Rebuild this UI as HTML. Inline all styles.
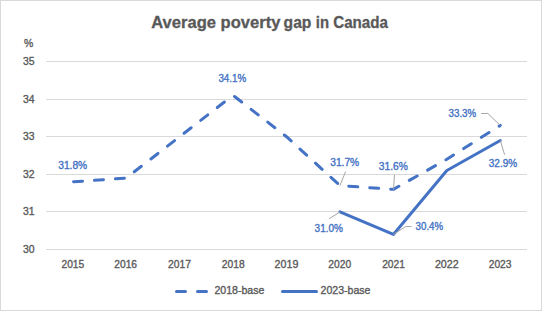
<!DOCTYPE html>
<html><head><meta charset="utf-8"><style>
html,body{margin:0;padding:0;background:#fff;}
body{width:542px;height:311px;overflow:hidden;font-family:"Liberation Sans",sans-serif;}
svg{display:block;}
</style></head><body>
<svg width="542" height="311" viewBox="0 0 542 311">
<rect x="0" y="0" width="542" height="311" fill="#fff"/>
<rect x="0.5" y="0.5" width="541" height="310" fill="none" stroke="#d9d9d9" stroke-width="1"/>
<rect x="46" y="61" width="481" height="1" fill="#d9d9d9"/>
<rect x="46" y="99" width="481" height="1" fill="#d9d9d9"/>
<rect x="46" y="136" width="481" height="1" fill="#d9d9d9"/>
<rect x="46" y="174" width="481" height="1" fill="#d9d9d9"/>
<rect x="46" y="211" width="481" height="1" fill="#d9d9d9"/>
<rect x="46" y="249" width="481" height="1" fill="#d9d9d9"/>
<polyline points="72.72,181.82 126.17,178.06 179.61,136.70 233.06,95.34" fill="none" stroke="#4472C4" stroke-width="3" stroke-linecap="round" stroke-linejoin="round" stroke-dasharray="9 12" stroke-dashoffset="-0.8"/>
<polyline points="233.06,95.34 286.50,136.70 339.94,185.58 393.39,189.34 446.83,159.26 500.28,125.42" fill="none" stroke="#4472C4" stroke-width="3" stroke-linecap="round" stroke-linejoin="round" stroke-dasharray="9 12" stroke-dashoffset="19.14"/>
<polyline points="339.94,211.90 393.39,234.46 446.83,170.54 500.28,140.46" fill="none" stroke="#4472C4" stroke-width="3" stroke-linecap="round" stroke-linejoin="round"/>
<polyline points="345.7,171.5 339.9,185.6" fill="none" stroke="#a6a6a6" stroke-width="1"/>
<polyline points="394.5,174.5 393.5,189.3" fill="none" stroke="#a6a6a6" stroke-width="1"/>
<polyline points="481.1,113.5 487.8,113.5 500.3,125.4" fill="none" stroke="#a6a6a6" stroke-width="1"/>
<polyline points="329.1,218.8 340.0,211.9" fill="none" stroke="#a6a6a6" stroke-width="1"/>
<polyline points="411.5,226.5 405.7,226.5 393.4,234.5" fill="none" stroke="#a6a6a6" stroke-width="1"/>
<polyline points="500.3,140.5 504.6,154.7" fill="none" stroke="#a6a6a6" stroke-width="1"/>
<line x1="176.5" y1="291.5" x2="208" y2="291.5" stroke="#4472C4" stroke-width="3" stroke-linecap="round" stroke-dasharray="9 12"/>
<line x1="282.5" y1="291.5" x2="316.5" y2="291.5" stroke="#4472C4" stroke-width="3" stroke-linecap="round"/>
<text id="t1" x="151.20" y="27.9" font-family="Liberation Sans" font-weight="bold" font-size="16.3" fill="#595959" stroke="#595959" stroke-width="0.3" textLength="64.80" lengthAdjust="spacingAndGlyphs">Average</text>
<text id="t2" x="220.60" y="27.9" font-family="Liberation Sans" font-weight="bold" font-size="16.3" fill="#595959" stroke="#595959" stroke-width="0.3" textLength="59.81" lengthAdjust="spacingAndGlyphs">poverty</text>
<text id="t3" x="283.60" y="27.9" font-family="Liberation Sans" font-weight="bold" font-size="16.3" fill="#595959" stroke="#595959" stroke-width="0.3" textLength="27.81" lengthAdjust="spacingAndGlyphs">gap</text>
<text id="t4" x="315.76" y="27.9" font-family="Liberation Sans" font-weight="bold" font-size="16.3" fill="#595959" stroke="#595959" stroke-width="0.3" textLength="13.24" lengthAdjust="spacingAndGlyphs">in</text>
<text id="t5" x="333.18" y="27.9" font-family="Liberation Sans" font-weight="bold" font-size="16.3" fill="#595959" stroke="#595959" stroke-width="0.3" textLength="54.86" lengthAdjust="spacingAndGlyphs">Canada</text>
<text id="pct" x="24.00" y="47.2" font-family="Liberation Sans" font-size="11.3" fill="#595959" stroke="#595959" stroke-width="0.35" textLength="9.24" lengthAdjust="spacingAndGlyphs">%</text>
<text id="y35" x="23.00" y="64.8" font-family="Liberation Sans" font-size="11.3" fill="#595959" stroke="#595959" stroke-width="0.35" textLength="11.60" lengthAdjust="spacingAndGlyphs">35</text>
<text id="y34" x="23.00" y="102.8" font-family="Liberation Sans" font-size="11.3" fill="#595959" stroke="#595959" stroke-width="0.35" textLength="11.60" lengthAdjust="spacingAndGlyphs">34</text>
<text id="y33" x="23.00" y="139.8" font-family="Liberation Sans" font-size="11.3" fill="#595959" stroke="#595959" stroke-width="0.35" textLength="11.60" lengthAdjust="spacingAndGlyphs">33</text>
<text id="y32" x="23.00" y="177.8" font-family="Liberation Sans" font-size="11.3" fill="#595959" stroke="#595959" stroke-width="0.35" textLength="11.60" lengthAdjust="spacingAndGlyphs">32</text>
<text id="y31" x="23.00" y="214.8" font-family="Liberation Sans" font-size="11.3" fill="#595959" stroke="#595959" stroke-width="0.35" textLength="11.60" lengthAdjust="spacingAndGlyphs">31</text>
<text id="y30" x="23.00" y="252.8" font-family="Liberation Sans" font-size="11.3" fill="#595959" stroke="#595959" stroke-width="0.35" textLength="11.60" lengthAdjust="spacingAndGlyphs">30</text>
<text id="x0" x="61.48" y="268" font-family="Liberation Sans" font-size="11.0" fill="#595959" stroke="#595959" stroke-width="0.35" textLength="22.82" lengthAdjust="spacingAndGlyphs">2015</text>
<text id="x1" x="114.26" y="268" font-family="Liberation Sans" font-size="11.0" fill="#595959" stroke="#595959" stroke-width="0.35" textLength="22.82" lengthAdjust="spacingAndGlyphs">2016</text>
<text id="x2" x="168.04" y="268" font-family="Liberation Sans" font-size="11.0" fill="#595959" stroke="#595959" stroke-width="0.35" textLength="22.82" lengthAdjust="spacingAndGlyphs">2017</text>
<text id="x3" x="221.80" y="268" font-family="Liberation Sans" font-size="11.0" fill="#595959" stroke="#595959" stroke-width="0.35" textLength="22.82" lengthAdjust="spacingAndGlyphs">2018</text>
<text id="x4" x="274.59" y="268" font-family="Liberation Sans" font-size="11.0" fill="#595959" stroke="#595959" stroke-width="0.35" textLength="23.81" lengthAdjust="spacingAndGlyphs">2019</text>
<text id="x5" x="328.35" y="268" font-family="Liberation Sans" font-size="11.0" fill="#595959" stroke="#595959" stroke-width="0.35" textLength="22.86" lengthAdjust="spacingAndGlyphs">2020</text>
<text id="x6" x="382.14" y="268" font-family="Liberation Sans" font-size="11.0" fill="#595959" stroke="#595959" stroke-width="0.35" textLength="22.82" lengthAdjust="spacingAndGlyphs">2021</text>
<text id="x7" x="434.93" y="268" font-family="Liberation Sans" font-size="11.0" fill="#595959" stroke="#595959" stroke-width="0.35" textLength="23.81" lengthAdjust="spacingAndGlyphs">2022</text>
<text id="x8" x="488.70" y="268" font-family="Liberation Sans" font-size="11.0" fill="#595959" stroke="#595959" stroke-width="0.35" textLength="22.82" lengthAdjust="spacingAndGlyphs">2023</text>
<text id="d1" x="58.19" y="168.5" font-family="Liberation Sans" font-size="10.3" fill="#4472C4" stroke="#4472C4" stroke-width="0.35" textLength="29.02" lengthAdjust="spacingAndGlyphs">31.8%</text>
<text id="d2" x="218.39" y="82.1" font-family="Liberation Sans" font-size="10.3" fill="#4472C4" stroke="#4472C4" stroke-width="0.35" textLength="27.82" lengthAdjust="spacingAndGlyphs">34.1%</text>
<text id="d3" x="330.19" y="165.9" font-family="Liberation Sans" font-size="10.3" fill="#4472C4" stroke="#4472C4" stroke-width="0.35" textLength="29.02" lengthAdjust="spacingAndGlyphs">31.7%</text>
<text id="d4" x="378.78" y="169.8" font-family="Liberation Sans" font-size="10.3" fill="#4472C4" stroke="#4472C4" stroke-width="0.35" textLength="29.02" lengthAdjust="spacingAndGlyphs">31.6%</text>
<text id="d5" x="448.59" y="116.8" font-family="Liberation Sans" font-size="10.3" fill="#4472C4" stroke="#4472C4" stroke-width="0.35" textLength="27.63" lengthAdjust="spacingAndGlyphs">33.3%</text>
<text id="d6" x="314.59" y="231.7" font-family="Liberation Sans" font-size="10.3" fill="#4472C4" stroke="#4472C4" stroke-width="0.35" textLength="28.41" lengthAdjust="spacingAndGlyphs">31.0%</text>
<text id="d7" x="415.59" y="229.5" font-family="Liberation Sans" font-size="10.3" fill="#4472C4" stroke="#4472C4" stroke-width="0.35" textLength="27.63" lengthAdjust="spacingAndGlyphs">30.4%</text>
<text id="d8" x="488.79" y="166.7" font-family="Liberation Sans" font-size="10.3" fill="#4472C4" stroke="#4472C4" stroke-width="0.35" textLength="28.41" lengthAdjust="spacingAndGlyphs">32.9%</text>
<text id="l1" x="214.40" y="294" font-family="Liberation Sans" font-size="11.0" fill="#595959" stroke="#595959" stroke-width="0.35" textLength="50.00" lengthAdjust="spacingAndGlyphs">2018-base</text>
<text id="l2" x="320.59" y="294" font-family="Liberation Sans" font-size="11.0" fill="#595959" stroke="#595959" stroke-width="0.35" textLength="49.81" lengthAdjust="spacingAndGlyphs">2023-base</text>
</svg>
</body></html>
